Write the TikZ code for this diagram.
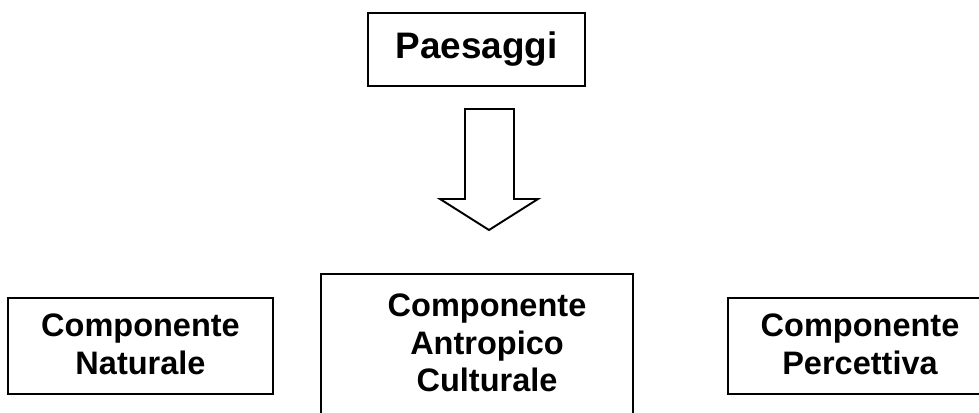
\documentclass[tikz,border=0pt]{standalone}
\usepackage{fontspec}
\setmainfont{Liberation Sans}
\usetikzlibrary{positioning}
\tikzset{
    schema/.style={
        x=0.02cm, y=-0.02cm,
        % Stile per i riquadri (rettangolo)
        riquadro/.style={draw, rectangle, line width=1.1pt,
                         align=center, inner sep=0pt},
        % Stile per il titolo
        titolo/.style={riquadro, font=\bfseries\fontsize{21}{24}\selectfont},
        % Stile per i testi delle componenti
        testo/.style={align=center, inner sep=0pt,
                      font=\bfseries\fontsize{18.5}{21.5}\selectfont},
        % Stile per la freccia larga
        freccia/.style={draw, line width=1.1pt, fill=white, line join=miter}
    }
}

\begin{document}
\begin{tikzpicture}[schema]
      \useasboundingbox (0,0) rectangle (979,412);
      \clip (0,0) rectangle (979,412);
      \node[titolo, minimum width=4.34cm, minimum height=1.46cm] (paesaggi) at (476.5,49.5) {Paesaggi};
      \draw[freccia] (465,109) -- (514,109) -- (514,199) -- (538,199) -- (489,230)
            -- (440,199) -- (465,199) -- cycle;
      \node[riquadro, minimum width=5.3cm, minimum height=1.92cm] (naturale) at (140.5,346) {};
      \node[testo] (naturaleTesto) at (140.5,344) {Componente\\Naturale};
      \node[riquadro, minimum width=6.24cm, minimum height=3.12cm] (antropico) at (477,352) {};
      \node[testo] (antropicoTesto) at (487,343) {Componente\\Antropico\\Culturale};
      \node[riquadro, minimum width=5.28cm, minimum height=1.92cm] (percettiva) at (860,346) {};
      \node[testo] (percettivaTesto) at (860,344) {Componente\\Percettiva};
\end{tikzpicture}
\end{document}
